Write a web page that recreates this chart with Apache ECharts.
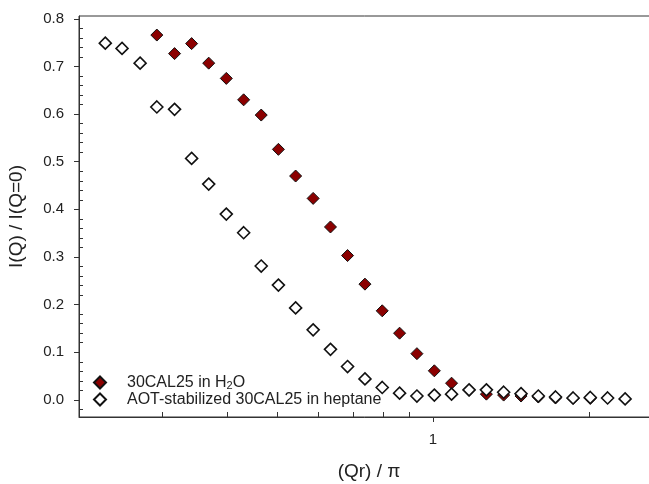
<!DOCTYPE html>
<html>
<head>
<meta charset="utf-8">
<script src="https://cdn.jsdelivr.net/npm/echarts@6/dist/echarts.min.js"></script>
<style>
    html, body { margin: 0; padding: 0; background: #fff; }
    #chart { width: 649px; height: 484px; }
</style>
</head>
<body>
<div id="chart"></div>
<script>
// (Qr)/pi grid
var qr = [0.233, 0.251, 0.272, 0.293, 0.317, 0.342, 0.369, 0.399, 0.431, 0.466,
    0.503, 0.543, 0.587, 0.634, 0.684, 0.739, 0.798, 0.862, 0.931, 1.006,
    1.086, 1.174, 1.268, 1.369, 1.479, 1.597, 1.724, 1.864, 2.012, 2.173, 2.349];
// AOT-stabilized in heptane (all 31 points)
var heptaneI = [0.749, 0.738, 0.707, 0.615, 0.610, 0.507, 0.453, 0.390, 0.351, 0.281,
    0.241, 0.193, 0.147, 0.106, 0.070, 0.044, 0.026, 0.014, 0.008, 0.010,
    0.012, 0.021, 0.021, 0.016, 0.013, 0.008, 0.006, 0.004, 0.005, 0.004, 0.002];
// in water, starts at qr[3]
var waterStart = 3;
var waterI = [0.766, 0.727, 0.748, 0.707, 0.675, 0.630, 0.598, 0.526, 0.470, 0.423,
    0.363, 0.303, 0.243, 0.187, 0.140, 0.097, 0.061, 0.035, 0.020, 0.012,
    0.010, 0.008, 0.006, 0.004, 0.003, 0.003];

var yMajor = [0, 0.1, 0.2, 0.3, 0.4, 0.5, 0.6, 0.7, 0.8];
var yMinor = [-0.02, 0.02, 0.04, 0.06, 0.08, 0.12, 0.14, 0.16, 0.18, 0.22, 0.24, 0.26, 0.28,
    0.32, 0.34, 0.36, 0.38, 0.42, 0.44, 0.46, 0.48, 0.52, 0.54, 0.56, 0.58,
    0.62, 0.64, 0.66, 0.68, 0.72, 0.74, 0.76, 0.78];
var xMajor = [1];
var xMinor = [0.3, 0.4, 0.5, 0.6, 0.7, 0.8, 0.9, 2];

var waterName = '30CAL25 in H2O';
var heptaneName = 'AOT-stabilized 30CAL25 in heptane';

(function () {
    var chart = echarts.init(document.getElementById('chart'));

    var waterData = [];
    for (var i = 0; i < waterI.length; i++) {
        waterData.push([qr[waterStart + i], waterI[i]]);
    }
    var heptaneData = [];
    for (var j = 0; j < heptaneI.length; j++) {
        heptaneData.push([qr[j], heptaneI[j]]);
    }

    var font = 'Liberation Sans, Arial, sans-serif';
    var option = {
        backgroundColor: '#fff',
        animation: false,
        textStyle: { fontFamily: font },
        grid: {
            left: 79, top: 16, width: 580, height: 401,
            outerBoundsMode: 'none',
            show: true, borderColor: '#333', borderWidth: 1
        },
        legend: {
            orient: 'vertical',
            left: 88, top: 369,
            itemWidth: 12, itemHeight: 12, itemGap: 0,
            textStyle: { fontSize: 16, color: '#222', lineHeight: 17, padding: [0, 0, 0, 16] },
            formatter: function (name) {
                if (name === waterName) {
                    return '{t|30CAL25 in H}{s|2}{t|O}';
                }
                return '{t|' + name + '}';
            },
            data: [waterName, heptaneName]
        },
        xAxis: [{
            type: 'log', min: 0.2073, max: 2.731,
            position: 'bottom',
            axisLine: { onZero: false, lineStyle: { color: '#333', width: 1 } },
            axisTick: { customValues: xMajor, inside: false, length: 5, lineStyle: { color: '#333' } },
            axisLabel: { customValues: xMajor, fontSize: 15, color: '#222', margin: 15,
                formatter: function (v) { return String(Math.round(v)); } },
            splitLine: { show: false },
            minorTick: { show: false },
            name: '(Qr) / \u03c0', nameLocation: 'middle', nameGap: 45,
            nameTextStyle: { fontSize: 19, color: '#222' }
        }, {
            // minor ticks, drawn inward
            type: 'log', min: 0.2073, max: 2.731,
            position: 'bottom',
            axisLine: { show: false, onZero: false },
            axisTick: { customValues: xMinor, inside: true, length: 5, lineStyle: { color: '#333' } },
            axisLabel: { show: false },
            splitLine: { show: false }
        }],
        yAxis: [{
            type: 'value', min: -0.036, max: 0.806,
            axisLine: { show: true, onZero: false, lineStyle: { color: '#333', width: 1 } },
            axisTick: { customValues: yMajor, inside: false, length: 5, lineStyle: { color: '#333' } },
            axisLabel: { customValues: yMajor, fontSize: 15, color: '#222', margin: 15,
                formatter: function (v) { return v.toFixed(1); } },
            splitLine: { show: false },
            name: 'I(Q) / I(Q=0)', nameLocation: 'middle', nameGap: 53, nameRotate: 90,
            nameTextStyle: { fontSize: 19, color: '#222' }
        }, {
            // minor ticks, drawn inward
            type: 'value', min: -0.036, max: 0.806,
            position: 'left',
            axisLine: { show: false, onZero: false },
            axisTick: { customValues: yMinor, inside: true, length: 4, lineStyle: { color: '#333' } },
            axisLabel: { show: false },
            splitLine: { show: false }
        }],
        series: [{
            name: waterName,
            type: 'scatter',
            symbol: 'diamond',
            symbolSize: 12,
            itemStyle: { color: '#8b0000', borderColor: '#111', borderWidth: 1, opacity: 1 },
            data: waterData
        }, {
            name: heptaneName,
            type: 'scatter',
            symbol: 'diamond',
            symbolSize: 12,
            itemStyle: { color: '#fff', borderColor: '#111', borderWidth: 1.6, opacity: 1 },
            data: heptaneData
        }]
    };
    option.legend.textStyle.rich = {
        t: { fontSize: 16, lineHeight: 17, color: '#222' },
        s: { fontSize: 11, lineHeight: 11, padding: [6, 0, 0, 0], verticalAlign: 'top', color: '#222' }
    };
    chart.setOption(option);
})();
</script>
</body>
</html>
